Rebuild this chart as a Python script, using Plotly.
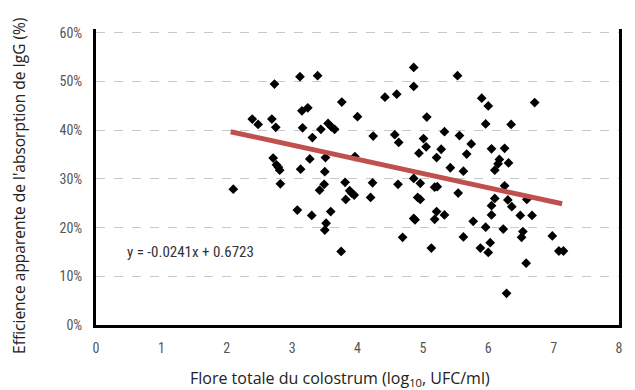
import plotly.graph_objects as go

# Scatter data: colostrum flora (log10 UFC/ml) vs apparent IgG absorption efficiency (%)
flore_x = [2.10, 2.39, 2.48, 2.69, 2.75, 2.73, 2.71, 2.76, 2.79, 2.81, 2.82,
           3.12, 3.15, 3.24, 3.16, 3.13, 3.08, 3.27, 3.30, 3.39, 3.31, 3.44,
           3.55, 3.60, 3.65, 3.51, 3.50, 3.49, 3.42, 3.52, 3.50, 3.59, 3.76,
           3.75, 3.81, 3.82, 3.88, 3.91, 3.95, 3.96, 4.00, 4.20, 4.23, 4.24,
           4.42, 4.57, 4.60, 4.63, 4.62, 4.69, 4.86, 4.86, 4.86, 4.86, 4.88,
           4.92, 4.96, 4.96, 4.94, 5.01, 5.05, 5.06, 5.13, 5.18, 5.18, 5.22,
           5.21, 5.21, 5.28, 5.33, 5.33, 5.42, 5.53, 5.54, 5.56, 5.62, 5.62,
           5.67, 5.74, 5.77, 5.88, 5.90, 5.96, 5.96, 6.00, 6.00, 6.03, 6.05,
           6.05, 6.05, 6.10, 6.10, 6.15, 6.17, 6.23, 6.25, 6.25, 6.28, 6.30,
           6.31, 6.35, 6.36, 6.49, 6.51, 6.53, 6.58, 6.59, 6.67, 6.71, 6.98,
           7.08, 7.15]
efficience_y = [27.9, 42.3, 41.2, 42.3, 40.6, 49.5, 34.3, 32.9, 32.4, 31.8, 29.0,
                51.0, 44.0, 44.6, 40.5, 32.0, 23.6, 34.1, 22.5, 51.2, 38.5, 40.2,
                41.4, 40.7, 40.2, 34.4, 31.5, 28.9, 27.7, 20.9, 19.5, 23.3, 45.8,
                15.1, 29.3, 25.8, 27.6, 27.1, 26.7, 34.6, 42.8, 26.2, 29.2, 38.8,
                46.8, 39.1, 47.4, 37.5, 28.9, 18.0, 52.9, 49.0, 30.1, 21.9, 21.6,
                26.2, 25.8, 29.1, 35.3, 38.3, 36.6, 42.7, 15.8, 21.7, 28.3, 28.4,
                23.3, 34.4, 36.1, 39.7, 22.6, 32.3, 51.2, 27.1, 38.9, 31.6, 18.1,
                35.1, 37.2, 21.3, 15.8, 46.6, 41.3, 20.1, 45.0, 14.9, 16.9, 36.2,
                24.5, 22.6, 31.8, 26.0, 33.1, 34.0, 19.7, 36.3, 28.6, 6.5, 25.7,
                33.3, 41.2, 24.3, 22.5, 18.0, 19.2, 12.7, 25.8, 22.5, 45.7, 18.3,
                15.2, 15.2]

# Trend line endpoints as drawn
trend_x = [2.06, 7.13]
trend_y = [39.7, 24.9]
equation_label = "y = -0.0241x + 0.6723"

x_ticks = [0, 1, 2, 3, 4, 5, 6, 7, 8]
y_ticks = [0, 10, 20, 30, 40, 50, 60]
y_range = [0, 60.8]

narrow = "Liberation Sans Narrow, Arial Narrow, Roboto Condensed, Liberation Sans, sans-serif"
title_font = "Open Sans, Lato, sans-serif"

fig = go.Figure()
fig.add_trace(go.Scatter(
    x=flore_x, y=efficience_y, mode="markers",
    marker=dict(symbol="diamond", size=7.5, color="black"),
    showlegend=False, hoverinfo="skip"))
fig.add_trace(go.Scatter(
    x=trend_x, y=trend_y, mode="lines",
    line=dict(color="#c0504d", width=5),
    showlegend=False, hoverinfo="skip"))

fig.update_layout(
    width=635, height=390,
    margin=dict(l=96, r=13, t=29, b=65),
    paper_bgcolor="white", plot_bgcolor="white",
    font=dict(family=narrow, size=14, color="#555555"),
    xaxis=dict(range=[0, 8], tickvals=x_ticks, ticktext=[str(v) for v in x_ticks],
               showgrid=False, zeroline=False, showline=True, linecolor="black",
               linewidth=3, ticks="", ticklabelstandoff=8,
               tickfont=dict(family=narrow, size=14, color="#555555")),
    # mirror=True repeats the y-axis line on the right: the frame's right border
    yaxis=dict(range=y_range, tickvals=y_ticks, ticktext=[f"{v}%" for v in y_ticks],
               showgrid=True, gridcolor="#c8c8c8", gridwidth=1, griddash="dash",
               zeroline=False, showline=True, mirror=True, linecolor="black",
               linewidth=3, ticks="", ticklabelstandoff=8,
               tickfont=dict(family=narrow, size=14, color="#555555")),
    annotations=[
        dict(text=equation_label, x=0.44, y=15.0, xref="x", yref="y",
             xanchor="left", yanchor="middle", showarrow=False,
             font=dict(family=narrow, size=15, color="#333333")),
        dict(text="Flore totale du colostrum (log<sub>10</sub>, UFC/ml)",
             x=0.467, y=0, xref="paper", yref="paper", yshift=-53,
             xanchor="center", yanchor="middle", showarrow=False,
             font=dict(family=title_font, size=16, color="#222222")),
        dict(text="Efficience apparente de l'absorption de IgG (%)",
             x=0, y=0.47, xref="paper", yref="paper", xshift=-77,
             xanchor="center", yanchor="middle", textangle=-90, showarrow=False,
             font=dict(family=title_font, size=15.5, color="#222222")),
    ],
)

fig.write_html(
    "out.html", config={"displayModeBar": False},
    post_script="document.body.style.margin='0';document.body.style.overflow='hidden';"
                "document.documentElement.style.overflow='hidden';")
